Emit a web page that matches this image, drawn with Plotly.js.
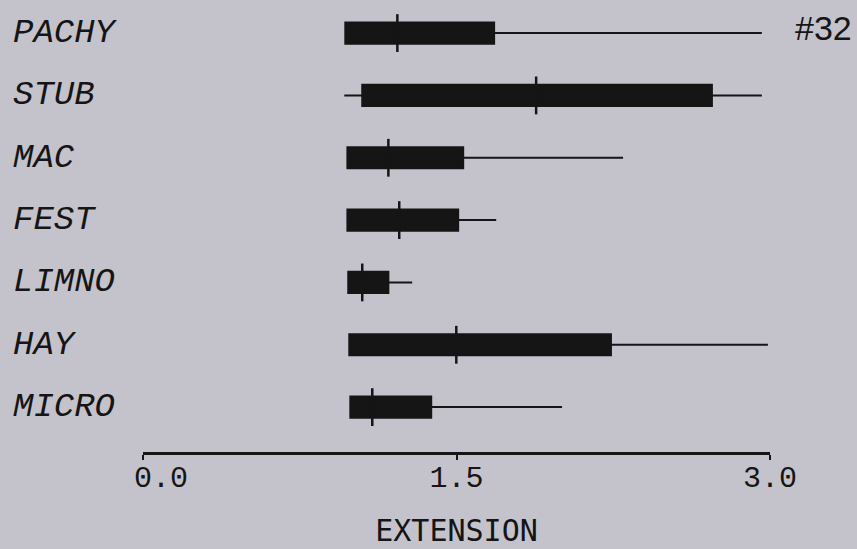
<!DOCTYPE html>
<html>
<head>
<meta charset="utf-8">
<script src="https://cdn.plot.ly/plotly-3.0.1.min.js"></script>
<style>html,body{margin:0;padding:0;background:#c4c3cc;}</style>
</head>
<body>
<div id="chart" style="width:857px;height:549px;"></div>
<script>
// Data
const categories = ['PACHY', 'STUB', 'MAC', 'FEST', 'LIMNO', 'HAY', 'MICRO'];
const minValues    = [0.968, 0.963, 0.978, 0.978, 0.982, 0.987, 0.992];
const q1Values     = [0.968, 1.049, 0.978, 0.978, 0.982, 0.987, 0.992];
const medianValues = [1.217, 1.881, 1.174, 1.226, 1.049, 1.499, 1.097];
const q3Values     = [1.680, 2.722, 1.532, 1.508, 1.174, 2.239, 1.379];
const maxValues    = [2.961, 2.961, 2.297, 1.690, 1.288, 2.990, 2.005];
const tickValues = [0, 1.5, 3];
const tickLabels = ['\u00a0\u00a00.0', '1.5', '3.0'];
const axisTitle = 'EXTENSION';
const plotNumber = '#32';

const ink = '#151515';

const boxTrace = {
  type: 'box',
  orientation: 'h',
  y: categories,
  q1: q1Values,
  median: medianValues,
  q3: q3Values,
  lowerfence: minValues,
  upperfence: maxValues,
  width: 0.34,
  whiskerwidth: 0,
  fillcolor: ink,
  line: {color: ink, width: 2},
  hoverinfo: 'skip',
  showlegend: false
};

const medianTrace = {
  type: 'scatter',
  mode: 'markers',
  x: medianValues,
  y: categories,
  marker: {symbol: 'line-ns', size: 27, color: ink, line: {color: ink, width: 2.5}},
  hoverinfo: 'skip',
  showlegend: false
};

const annotations = categories.map(c => ({
  xref: 'paper', yref: 'y', x: -0.211, y: c,
  xanchor: 'left', yanchor: 'middle',
  text: c, showarrow: false,
  font: {family: 'Liberation Mono, Courier New, monospace', size: 34, color: ink, style: 'italic'}
}));
annotations.push({
  xref: 'paper', yref: 'y', x: 1.037, y: categories[0],
  xanchor: 'left', yanchor: 'middle', yshift: 5,
  text: plotNumber, showarrow: false,
  font: {family: 'Liberation Sans, Arial, sans-serif', size: 34, color: ink}
});

const layout = {
  width: 857, height: 549,
  paper_bgcolor: '#c4c3cc',
  plot_bgcolor: '#c4c3cc',
  margin: {l: 142.5, r: 87, t: 10, b: 97},
  xaxis: {
    range: [0, 3],
    showgrid: false, zeroline: false,
    showline: true, linecolor: ink, linewidth: 2.5,
    ticks: 'outside', ticklen: 5, tickwidth: 2, tickcolor: ink,
    tickvals: tickValues, ticktext: tickLabels,
    ticklabelstandoff: -9,
    tickfont: {family: 'Liberation Mono, Courier New, monospace', size: 30, color: ink},
    title: {text: axisTitle, standoff: 26,
            font: {family: 'DejaVu Sans Mono, monospace', size: 30, color: ink}}
  },
  yaxis: {
    type: 'category',
    categoryorder: 'array',
    categoryarray: categories.slice().reverse(),
    range: [-0.72, 6.37],
    showgrid: false, zeroline: false, showline: false,
    showticklabels: false, ticks: ''
  },
  annotations: annotations
};

Plotly.newPlot('chart', [boxTrace, medianTrace], layout, {displayModeBar: false, staticPlot: true});
</script>
</body>
</html>
